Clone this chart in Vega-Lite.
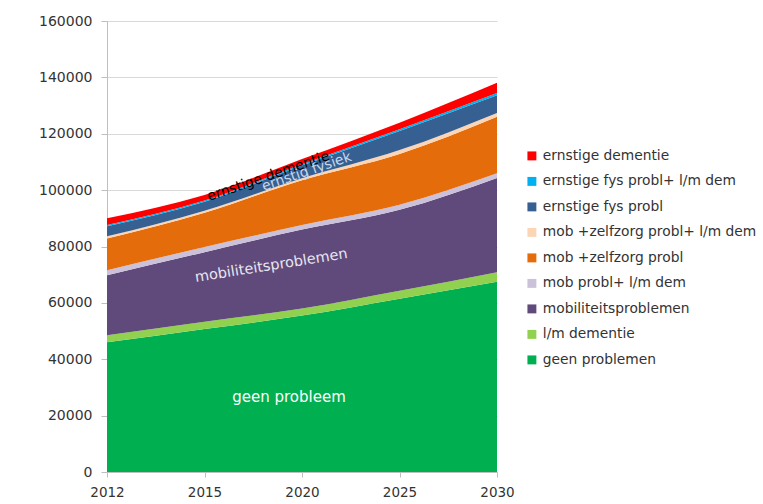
{
  "$schema": "https://vega.github.io/schema/vega-lite/v6.json",
  "width": 390,
  "height": 451,
  "autosize": "none",
  "padding": {"left": 107, "top": 21, "right": 266, "bottom": 32},
  "background": "white",
  "config": {"view": {"stroke": null}, "font": "DejaVu Sans"},
  "datasets": {
    "groepen": [
      {"jaar": "2012", "categorie": "geen problemen", "aantal": 46000},
      {"jaar": "2012", "categorie": "l/m dementie", "aantal": 2500},
      {"jaar": "2012", "categorie": "mobiliteitsproblemen", "aantal": 21300},
      {"jaar": "2012", "categorie": "mob probl+ l/m dem", "aantal": 1800},
      {"jaar": "2012", "categorie": "mob +zelfzorg probl", "aantal": 11200},
      {"jaar": "2012", "categorie": "mob +zelfzorg probl+ l/m dem", "aantal": 800},
      {"jaar": "2012", "categorie": "ernstige fys probl", "aantal": 3600},
      {"jaar": "2012", "categorie": "ernstige fys probl+ l/m dem", "aantal": 400},
      {"jaar": "2012", "categorie": "ernstige dementie", "aantal": 2400},
      {"jaar": "2015", "categorie": "geen problemen", "aantal": 50700},
      {"jaar": "2015", "categorie": "l/m dementie", "aantal": 2600},
      {"jaar": "2015", "categorie": "mobiliteitsproblemen", "aantal": 24700},
      {"jaar": "2015", "categorie": "mob probl+ l/m dem", "aantal": 1800},
      {"jaar": "2015", "categorie": "mob +zelfzorg probl", "aantal": 12200},
      {"jaar": "2015", "categorie": "mob +zelfzorg probl+ l/m dem", "aantal": 700},
      {"jaar": "2015", "categorie": "ernstige fys probl", "aantal": 3200},
      {"jaar": "2015", "categorie": "ernstige fys probl+ l/m dem", "aantal": 400},
      {"jaar": "2015", "categorie": "ernstige dementie", "aantal": 2000},
      {"jaar": "2020", "categorie": "geen problemen", "aantal": 55500},
      {"jaar": "2020", "categorie": "l/m dementie", "aantal": 2500},
      {"jaar": "2020", "categorie": "mobiliteitsproblemen", "aantal": 28000},
      {"jaar": "2020", "categorie": "mob probl+ l/m dem", "aantal": 1600},
      {"jaar": "2020", "categorie": "mob +zelfzorg probl", "aantal": 15900},
      {"jaar": "2020", "categorie": "mob +zelfzorg probl+ l/m dem", "aantal": 700},
      {"jaar": "2020", "categorie": "ernstige fys probl", "aantal": 4500},
      {"jaar": "2020", "categorie": "ernstige fys probl+ l/m dem", "aantal": 500},
      {"jaar": "2020", "categorie": "ernstige dementie", "aantal": 1800},
      {"jaar": "2025", "categorie": "geen problemen", "aantal": 61500},
      {"jaar": "2025", "categorie": "l/m dementie", "aantal": 2800},
      {"jaar": "2025", "categorie": "mobiliteitsproblemen", "aantal": 28700},
      {"jaar": "2025", "categorie": "mob probl+ l/m dem", "aantal": 1800},
      {"jaar": "2025", "categorie": "mob +zelfzorg probl", "aantal": 18000},
      {"jaar": "2025", "categorie": "mob +zelfzorg probl+ l/m dem", "aantal": 1400},
      {"jaar": "2025", "categorie": "ernstige fys probl", "aantal": 6800},
      {"jaar": "2025", "categorie": "ernstige fys probl+ l/m dem", "aantal": 600},
      {"jaar": "2025", "categorie": "ernstige dementie", "aantal": 2300},
      {"jaar": "2030", "categorie": "geen problemen", "aantal": 67500},
      {"jaar": "2030", "categorie": "l/m dementie", "aantal": 3400},
      {"jaar": "2030", "categorie": "mobiliteitsproblemen", "aantal": 33400},
      {"jaar": "2030", "categorie": "mob probl+ l/m dem", "aantal": 1700},
      {"jaar": "2030", "categorie": "mob +zelfzorg probl", "aantal": 20000},
      {"jaar": "2030", "categorie": "mob +zelfzorg probl+ l/m dem", "aantal": 1400},
      {"jaar": "2030", "categorie": "ernstige fys probl", "aantal": 6300},
      {"jaar": "2030", "categorie": "ernstige fys probl+ l/m dem", "aantal": 800},
      {"jaar": "2030", "categorie": "ernstige dementie", "aantal": 3600}
    ],
    "labels": [
      {"tekst": "ernstige dementie", "jaar": "2020", "waarde": 108950},
      {"tekst": "ernstig fysiek", "jaar": "2020", "waarde": 105900},
      {"tekst": "mobiliteitsproblemen", "jaar": "2020", "waarde": 74800},
      {"tekst": "geen probleem", "jaar": "2020", "waarde": 26600}
    ]
  },
  "layer": [
    {
      "data": {"name": "groepen"},
      "transform": [
        {"calculate": "indexof(['ernstige dementie','ernstige fys probl+ l/m dem','ernstige fys probl','mob +zelfzorg probl+ l/m dem','mob +zelfzorg probl','mob probl+ l/m dem','mobiliteitsproblemen','l/m dementie','geen problemen'], datum.categorie)", "as": "volgorde"}
      ],
      "mark": {"type": "area", "interpolate": "monotone"},
      "encoding": {
        "x": {
          "field": "jaar", "type": "ordinal", "title": null,
          "scale": {"type": "point", "padding": 0},
          "axis": {"labelAngle": 0, "labelFontSize": 13.5, "labelColor": "#333333", "domainColor": "#bfbfbf", "tickColor": "#bfbfbf", "tickSize": 5, "labelPadding": 8, "grid": false}
        },
        "y": {
          "field": "aantal", "type": "quantitative", "stack": "zero", "title": null,
          "scale": {"domain": [0, 160000], "nice": false},
          "axis": {"values": [0, 20000, 40000, 60000, 80000, 100000, 120000, 140000, 160000], "format": "d", "labelFontSize": 14, "labelColor": "#333333", "domainColor": "#bfbfbf", "tickColor": "#bfbfbf", "tickSize": 6, "labelPadding": 9, "gridColor": "#d9d9d9", "grid": true}
        },
        "color": {
          "field": "categorie", "type": "nominal",
          "scale": {
            "domain": ["ernstige dementie", "ernstige fys probl+ l/m dem", "ernstige fys probl", "mob +zelfzorg probl+ l/m dem", "mob +zelfzorg probl", "mob probl+ l/m dem", "mobiliteitsproblemen", "l/m dementie", "geen problemen"],
            "range": ["#ff0000", "#00b0f0", "#376092", "#fcd5b5", "#e46c0a", "#ccc1da", "#604a7b", "#92d050", "#00b050"]
          },
          "legend": {"orient": "none", "legendX": 418, "legendY": 128, "title": null, "symbolType": "square", "symbolSize": 80, "symbolStrokeWidth": 0, "labelFontSize": 13.8, "labelColor": "#333333", "rowPadding": 10.5, "labelLimit": 400, "labelOffset": 4}
        },
        "order": {"field": "volgorde", "type": "quantitative", "sort": "descending"}
      }
    },
    {
      "data": {"name": "labels"},
      "transform": [{"filter": "datum.tekst == 'ernstige dementie'"}],
      "mark": {"type": "text", "angle": -19, "dx": -35.5, "fontSize": 14, "color": "#000000", "align": "center", "baseline": "middle"},
      "encoding": {
        "x": {"field": "jaar", "type": "ordinal", "title": null},
        "y": {"field": "waarde", "type": "quantitative", "title": null, "scale": {"domain": [0, 160000], "nice": false}},
        "text": {"field": "tekst"}
      }
    },
    {
      "data": {"name": "labels"},
      "transform": [{"filter": "datum.tekst == 'ernstig fysiek'"}],
      "mark": {"type": "text", "angle": -19, "dx": 5, "fontSize": 14, "color": "#c9d6ea", "align": "center", "baseline": "middle"},
      "encoding": {
        "x": {"field": "jaar", "type": "ordinal", "title": null},
        "y": {"field": "waarde", "type": "quantitative", "title": null, "scale": {"domain": [0, 160000], "nice": false}},
        "text": {"field": "tekst"}
      }
    },
    {
      "data": {"name": "labels"},
      "transform": [{"filter": "datum.tekst == 'mobiliteitsproblemen'"}],
      "mark": {"type": "text", "angle": -9, "dx": -31, "fontSize": 14.5, "color": "#e8e6f0", "align": "center", "baseline": "middle"},
      "encoding": {
        "x": {"field": "jaar", "type": "ordinal", "title": null},
        "y": {"field": "waarde", "type": "quantitative", "title": null, "scale": {"domain": [0, 160000], "nice": false}},
        "text": {"field": "tekst"}
      }
    },
    {
      "data": {"name": "labels"},
      "transform": [{"filter": "datum.tekst == 'geen probleem'"}],
      "mark": {"type": "text", "dx": -13, "fontSize": 15, "color": "#ffffff", "align": "center", "baseline": "middle"},
      "encoding": {
        "x": {"field": "jaar", "type": "ordinal", "title": null},
        "y": {"field": "waarde", "type": "quantitative", "title": null, "scale": {"domain": [0, 160000], "nice": false}},
        "text": {"field": "tekst"}
      }
    }
  ]
}
